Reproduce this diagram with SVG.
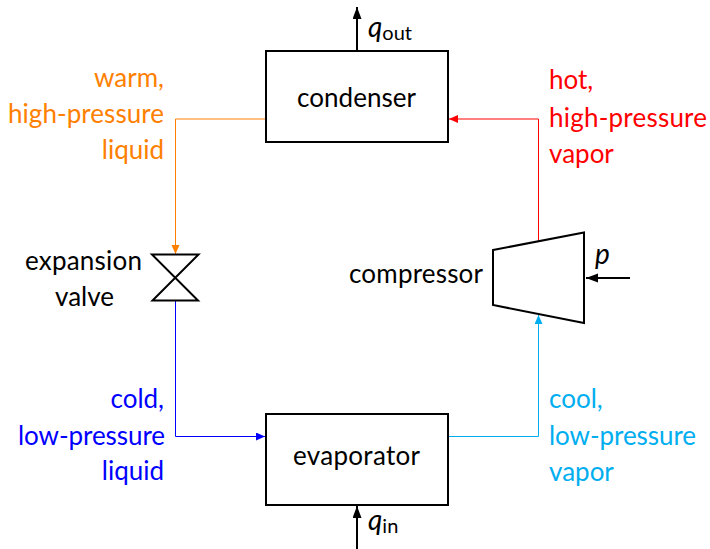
<svg xmlns="http://www.w3.org/2000/svg" width="710" height="549" viewBox="0 0 710 549">
<style>
text{font-family:Lato,"Open Sans",sans-serif;font-size:26px;fill:#000}
.e{text-anchor:end}.m{text-anchor:middle}
.o{fill:#ff8000}.r{fill:#ff0000}.b{fill:#0000ff}.c{fill:#00aeef}
.s{fill:#fff;stroke:#000;stroke-width:2}
.n{fill:none;stroke-width:1}
.i{font-style:italic;font-size:28px}.u{font-size:20px}
</style>
<defs>
<marker id="ao" markerWidth="10" markerHeight="9" refX="9" refY="4" orient="auto" markerUnits="userSpaceOnUse"><path d="M0 0L9 4L0 8z" fill="#ff8000"/></marker>
<marker id="ar" markerWidth="10" markerHeight="9" refX="9" refY="4" orient="auto" markerUnits="userSpaceOnUse"><path d="M0 0L9 4L0 8z" fill="#ff0000"/></marker>
<marker id="ab" markerWidth="10" markerHeight="9" refX="9" refY="4" orient="auto" markerUnits="userSpaceOnUse"><path d="M0 0L9 4L0 8z" fill="#0000ff"/></marker>
<marker id="ac" markerWidth="10" markerHeight="9" refX="9" refY="4" orient="auto" markerUnits="userSpaceOnUse"><path d="M0 0L9 4L0 8z" fill="#00aeef"/></marker>
<marker id="ak" markerWidth="13" markerHeight="10" refX="12" refY="4.5" orient="auto" markerUnits="userSpaceOnUse"><path d="M0 0L12 4.500L0 9z" fill="#000"/></marker>
</defs>
<g id="connectors">
<path class="n" stroke="#ff8000" d="M266 119H175.500V254" marker-end="url(#ao)"/>
<path class="n" stroke="#ff0000" d="M538.500 242V119H449" marker-end="url(#ar)"/>
<path class="n" stroke="#0000ff" d="M175.500 300V436.500H265" marker-end="url(#ab)"/>
<path class="n" stroke="#00aeef" d="M449 436.500H538.500V315" marker-end="url(#ac)"/>
<path fill="none" stroke="#000" stroke-width="2" d="M357 50V7" marker-end="url(#ak)"/>
<path fill="none" stroke="#000" stroke-width="2" d="M357 549V506" marker-end="url(#ak)"/>
<path fill="none" stroke="#000" stroke-width="2" d="M630 278H586" marker-end="url(#ak)"/>
</g>
<g id="condenser"><rect class="s" x="266" y="51" width="182" height="91"/><text x="297" y="107" textLength="119">condenser</text></g>
<g id="evaporator"><rect class="s" x="266" y="414" width="182" height="91"/><text x="293" y="465" textLength="127">evaporator</text></g>
<g id="valve"><path class="s" d="M152 254.500H198.500L152.500 300.500H198z"/><text x="25" y="270" textLength="117">expansion</text><text class="e" x="114" y="306">valve</text></g>
<g id="compressor"><path class="s" d="M493 250L584 232.500V323L493 305z"/><text x="349" y="283" textLength="134">compressor</text></g>
<g id="labels">
<text class="e o" x="164" y="87">warm,</text><text class="o" x="8" y="123" textLength="156">high-pressure</text><text class="e o" x="164" y="159">liquid</text>
<text class="r" x="549" y="89">hot,</text><text class="r" x="549" y="127" textLength="158">high-pressure</text><text class="r" x="549" y="163">vapor</text>
<text class="e b" x="164" y="408">cold,</text><text class="b" x="18" y="445" textLength="147">low-pressure</text><text class="e b" x="164" y="480">liquid</text>
<text class="c" x="549" y="408">cool,</text><text class="c" x="549" y="445" textLength="147">low-pressure</text><text class="c" x="549" y="481">vapor</text>
<text x="368" y="37"><tspan class="i">q</tspan><tspan class="u" dy="3">out</tspan></text>
<text x="368" y="530"><tspan class="i">q</tspan><tspan class="u" dy="3">in</tspan></text>
<text class="i" x="595" y="264">p</text>
</g>
</svg>
